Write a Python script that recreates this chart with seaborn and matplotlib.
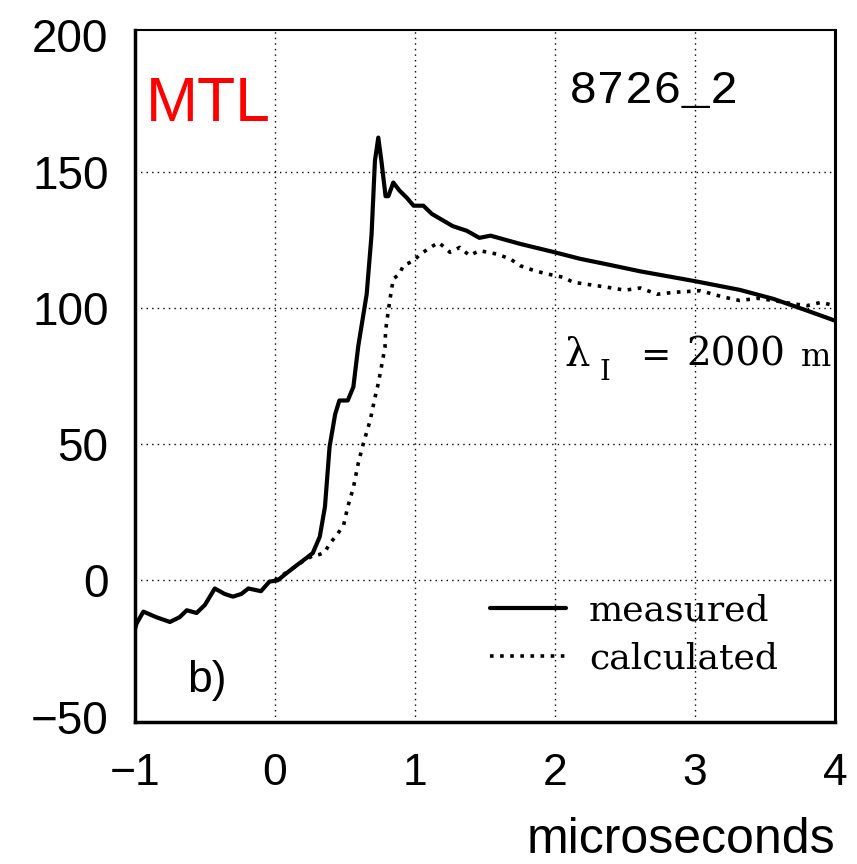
import matplotlib
matplotlib.use("Agg")
import matplotlib.pyplot as plt
import seaborn as sns
import pandas as pd

# ---- data ----
t_measured = [-1.0, -0.99, -0.94, -0.85, -0.75, -0.68, -0.63, -0.56, -0.50, -0.43,
              -0.36, -0.30, -0.24, -0.19, -0.10, -0.04, 0.02, 0.08, 0.155, 0.22,
              0.27, 0.32, 0.357, 0.39, 0.43, 0.46, 0.52, 0.56, 0.595, 0.655,
              0.69, 0.714, 0.738, 0.76, 0.79, 0.81, 0.845, 0.89, 0.94, 0.99,
              1.06, 1.12, 1.27, 1.37, 1.46, 1.54, 1.75, 1.99, 2.18, 2.37,
              2.61, 3.0, 3.32, 3.56, 3.80, 4.0]
v_measured = [-18, -16, -11.5, -13.5, -15.3, -13.5, -11, -12, -9, -3,
              -5, -6, -5, -3, -4, -0.5, 0, 2.5, 5.5, 8,
              10, 16, 27, 49, 61, 66, 66, 71, 86, 105,
              127, 154, 162.5, 154, 141, 141, 146, 143, 140.5, 137.5,
              137.5, 134.5, 130, 128.3, 125.7, 126.5, 123.5, 120.5, 118, 116,
              113.4, 109.8, 106.6, 103.3, 99, 95.3]

t_calculated = [0.0, 0.1, 0.2, 0.27, 0.32, 0.357, 0.39, 0.44, 0.49, 0.52,
                0.56, 0.595, 0.63, 0.68, 0.714, 0.74, 0.786, 0.79, 0.82, 0.845,
                0.89, 0.917, 0.99, 1.04, 1.13, 1.17, 1.25, 1.32, 1.39, 1.46,
                1.58, 1.68, 1.75, 1.85, 1.94, 2.06, 2.13, 2.25, 2.37, 2.5,
                2.61, 2.73, 2.85, 3.04, 3.2, 3.32, 3.45, 3.56, 3.7, 3.80,
                3.9, 4.0]
v_calculated = [0, 3.5, 7, 9, 9.5, 10.4, 13.4, 16.5, 20.2, 27,
                34, 43, 50, 58.7, 67, 72.7, 85.6, 91.7, 102.7, 110.6,
                112.5, 115.5, 117.3, 119.8, 122.8, 124, 120.4, 122.2, 119.2, 121,
                119.8, 118, 115.5, 113.7, 112.5, 111.2, 109.4, 108.5, 107.6, 106.5,
                107.3, 105, 105.7, 106.3, 104, 102.7, 103.5, 102.7, 101.5, 100.8,
                102, 100.8]

x_ticks = [-1, 0, 1, 2, 3, 4]
x_ticklabels = ["\u22121", "0", "1", "2", "3", "4"]
y_ticks = [-50, 0, 50, 100, 150, 200]
y_ticklabels = ["\u221250", "0", "50", "100", "150", "200"]

sns.set_theme(style="white")
plt.rcParams["font.family"] = ["Liberation Sans", "DejaVu Sans"]
plt.rcParams["text.color"] = "black"
plt.rcParams["xtick.color"] = "black"
plt.rcParams["ytick.color"] = "black"

fig = plt.figure(figsize=(8.57, 8.64), dpi=100)
ax = fig.add_axes([0.1575, 0.1644, 0.8168, 0.8009])

df_m = pd.DataFrame({"t": t_measured, "v": v_measured})
df_c = pd.DataFrame({"t": t_calculated, "v": v_calculated})

sns.lineplot(data=df_m, x="t", y="v", ax=ax, color="black", linewidth=3.0,
             sort=False, estimator=None, label="measured")
sns.lineplot(data=df_c, x="t", y="v", ax=ax, color="black", linewidth=2.6,
             linestyle=(0, (1, 1.8)), sort=False, estimator=None, label="calculated")

ax.set_xlim(-1, 4)
ax.set_ylim(-52, 202)
ax.set_xticks(x_ticks)
ax.set_xticklabels(x_ticklabels, fontsize=32)
ax.set_yticks(y_ticks)
ax.set_yticklabels(y_ticklabels, fontsize=33)
ax.tick_params(axis="both", length=0)
ax.tick_params(axis="x", pad=22)
ax.tick_params(axis="y", pad=19)
ax.set_xlabel("")
ax.set_ylabel("")

# dotted grid at inner ticks
for xv in [0, 1, 2, 3]:
    ax.axvline(xv, color="black", linewidth=1.0, linestyle=(0, (1, 3)), zorder=0)
for yv in [0, 50, 100, 150]:
    ax.axhline(yv, color="black", linewidth=1.0, linestyle=(0, (1, 3)), zorder=0)

for side, lw in [("left", 2.5), ("bottom", 2.5), ("right", 2.2), ("top", 1.5)]:
    ax.spines[side].set_visible(True)
    ax.spines[side].set_color("black")
    ax.spines[side].set_linewidth(lw)

leg = ax.legend(loc="upper left", bbox_to_anchor=(0.507, 0.186), frameon=False,
                borderpad=0, borderaxespad=0,
                prop={"family": "DejaVu Serif", "size": 26},
                handlelength=2.1, handletextpad=0.65, labelspacing=0.4)

ax.text(0.015, 0.868, "MTL", transform=ax.transAxes, color="red",
        fontsize=45, ha="left", va="baseline")
ax.text(0.62, 0.895, "8726_2", transform=ax.transAxes, color="black",
        fontsize=34, family="Liberation Mono", ha="left", va="baseline")
# lambda_I = 2000 m
ax.text(0.614, 0.515, "\u03bb", transform=ax.transAxes, color="black",
        fontsize=29, family="DejaVu Serif", ha="left", va="baseline")
ax.text(0.663, 0.494, "I", transform=ax.transAxes, color="black",
        fontsize=20, family="DejaVu Serif", ha="left", va="baseline")
ax.text(0.721, 0.515, "=", transform=ax.transAxes, color="black",
        fontsize=26, family="DejaVu Serif", ha="left", va="baseline")
ax.text(0.787, 0.515, "2000", transform=ax.transAxes, color="black",
        fontsize=28, family="DejaVu Serif", ha="left", va="baseline")
ax.text(0.951, 0.515, "m", transform=ax.transAxes, color="black",
        fontsize=23, family="DejaVu Serif", ha="left", va="baseline")
ax.text(0.075, 0.044, "b)", transform=ax.transAxes, color="black",
        fontsize=32, ha="left", va="baseline")

fig.text(0.795, 0.001, "microseconds", fontsize=36, ha="center", va="bottom")

fig.savefig("out.png", dpi=100)
